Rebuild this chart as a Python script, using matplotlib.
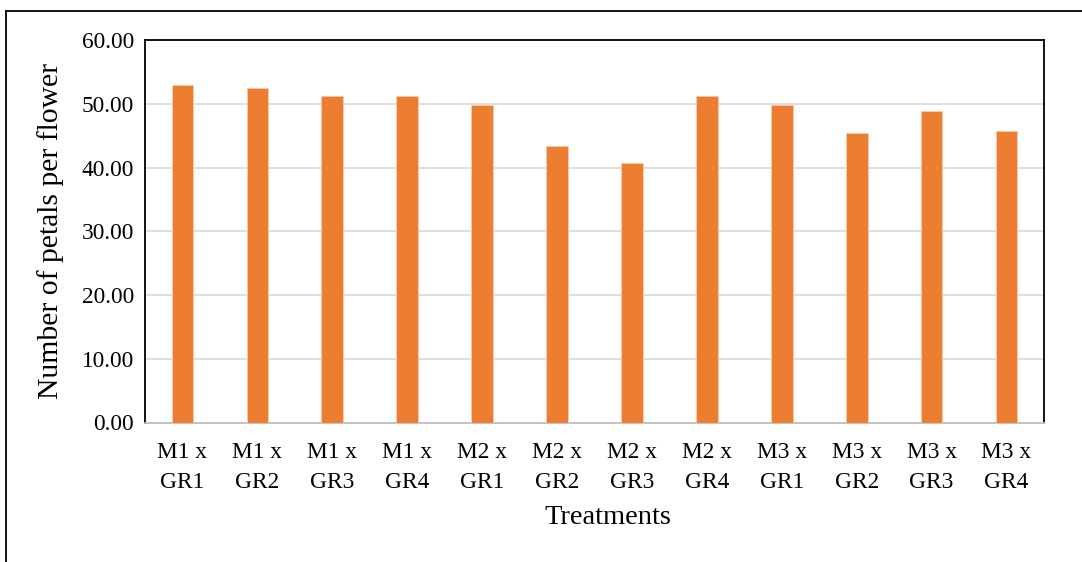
import matplotlib
matplotlib.use("Agg")
import matplotlib.pyplot as plt
from matplotlib.lines import Line2D

categories = ["M1 x\nGR1", "M1 x\nGR2", "M1 x\nGR3", "M1 x\nGR4",
              "M2 x\nGR1", "M2 x\nGR2", "M2 x\nGR3", "M2 x\nGR4",
              "M3 x\nGR1", "M3 x\nGR2", "M3 x\nGR3", "M3 x\nGR4"]
values = [53.0, 52.45, 51.2, 51.15, 49.8, 43.3, 40.75, 51.15, 49.85, 45.45, 48.8, 45.8]
yticks = [0, 10, 20, 30, 40, 50, 60]

plt.rcParams['font.family'] = ['Liberation Serif', 'DejaVu Serif']

W, H = 1082, 562
fig = plt.figure(figsize=(W/100, H/100), dpi=100)
ax = fig.add_axes([145/W, 1-422.5/H, (1044-145)/W, (422.5-40)/H])

x = list(range(len(categories)))
ax.bar(x, values, width=0.29, color='#ED7D31', edgecolor='#F8CBAD', linewidth=0.6, zorder=3)

ax.set_xlim(-0.5, len(categories)-0.5)
ax.set_ylim(0, 60)
ax.set_yticks(yticks)
ax.set_yticklabels([f"{v:.2f}" for v in yticks])
ax.set_xticks(x)
ax.set_xticklabels(categories, linespacing=1.55)
ax.tick_params(axis='both', length=0, labelsize=16.8)
ax.tick_params(axis='y', pad=8)
ax.tick_params(axis='x', pad=14)
ax.grid(axis='y', color='#d9d9d9', linewidth=1.2, zorder=0)
ax.set_axisbelow(True)

for s in ['left', 'top', 'right']:
    ax.spines[s].set_color('black')
    ax.spines[s].set_linewidth(1.3)
ax.spines['bottom'].set_color('#bfbfbf')
ax.spines['bottom'].set_linewidth(1.3)

ax.set_ylabel("Number of petals per flower", fontsize=21.3)
ax.yaxis.set_label_coords((51-145)/899, 0.5)
ax.set_xlabel("Treatments", fontsize=20.5)
ax.xaxis.set_label_coords((607.5-145)/899, (422.5-518)/382.5)
ax.xaxis.label.set_va('center')
ax.yaxis.label.set_va('center')

# outer chart border (partially visible)
fig.add_artist(Line2D([5.5/W, 5.5/W], [0, 1-10.5/H], transform=fig.transFigure, color='black', linewidth=1.3))
fig.add_artist(Line2D([5.5/W, 1], [1-10.5/H, 1-10.5/H], transform=fig.transFigure, color='black', linewidth=1.3))

fig.savefig("out.png", dpi=100)
